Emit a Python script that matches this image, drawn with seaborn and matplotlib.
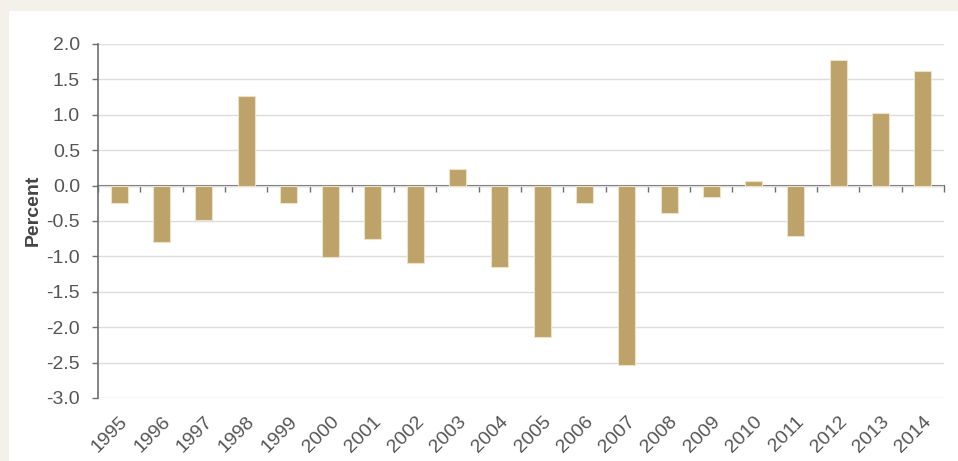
import matplotlib
matplotlib.use("Agg")
from matplotlib import pyplot as plt
from matplotlib.patches import Rectangle
import pandas as pd
import seaborn as sns

# data
years = [str(y) for y in range(1995, 2015)]
values = [-0.24, -0.80, -0.48, 1.27, -0.24, -1.01, -0.75, -1.10, 0.24, -1.15,
          -2.14, -0.24, -2.54, -0.38, -0.16, 0.06, -0.71, 1.78, 1.03, 1.62]
y_ticks = [2.0, 1.5, 1.0, 0.5, 0.0, -0.5, -1.0, -1.5, -2.0, -2.5, -3.0]

df = pd.DataFrame({"Year": years, "Percent": values})

sns.set_style("white")
plt.rcParams["font.family"] = ["Liberation Sans", "DejaVu Sans"]
plt.rcParams["axes.unicode_minus"] = False

fig = plt.figure(figsize=(9.58, 4.61), dpi=100)
fig.patch.set_facecolor("#f4f1ea")
# white card behind the chart
fig.patches.append(Rectangle((9 / 958, 0), 1, 1 - 11 / 461, transform=fig.transFigure,
                             facecolor="white", edgecolor="none", zorder=-5))

ax = fig.add_axes([98 / 958, 1 - 398 / 461, (944 - 98) / 958, (398 - 44) / 461])
ax.set_facecolor("white")

sns.barplot(data=df, x="Year", y="Percent", color="#bda36a", width=0.4,
            edgecolor="#ece2c8", linewidth=0.8, saturation=1, ax=ax, zorder=3)

ymin, ymax = min(y_ticks), max(y_ticks)
ax.set_ylim(ymin, ymax)
ax.set_xlim(-0.5, len(years) - 0.5)
ax.set_yticks(y_ticks)
ax.set_yticklabels([f"{t:.1f}" for t in y_ticks])
ax.yaxis.grid(True, color="#dddddd", linewidth=1.0, zorder=0)
ax.set_axisbelow(True)

for side in ["top", "right", "bottom"]:
    ax.spines[side].set_visible(False)
ax.spines["left"].set_color("#6e6e6e")
ax.spines["left"].set_linewidth(1.2)

ax.tick_params(axis="y", direction="out", length=4, width=1, color="#6e6e6e",
               labelsize=14, labelcolor="#555555", pad=9, left=True)
ax.tick_params(axis="x", length=0, labelsize=14, labelcolor="#555555", pad=11)
plt.setp(ax.get_xticklabels(), rotation=45, ha="right", rotation_mode="anchor")

ax.set_xlabel("")
ax.set_ylabel("Percent", fontsize=14, fontweight="bold", color="#444444")
ax.yaxis.set_label_coords(-0.066, 0.53)

# zero line with category-boundary ticks
zero_pos = (0 - ymin) / (ymax - ymin)
sec = ax.secondary_xaxis(zero_pos)
sec.spines["top"].set_color("#6e6e6e")
sec.spines["top"].set_linewidth(1.5)
sec.spines["bottom"].set_visible(False)
sec.set_xticks([i - 0.5 for i in range(len(years) + 1)])
sec.tick_params(direction="in", length=4, width=1, color="#6e6e6e",
                labeltop=False, labelbottom=False)

fig.savefig("out.png", dpi=100, facecolor=fig.get_facecolor())
